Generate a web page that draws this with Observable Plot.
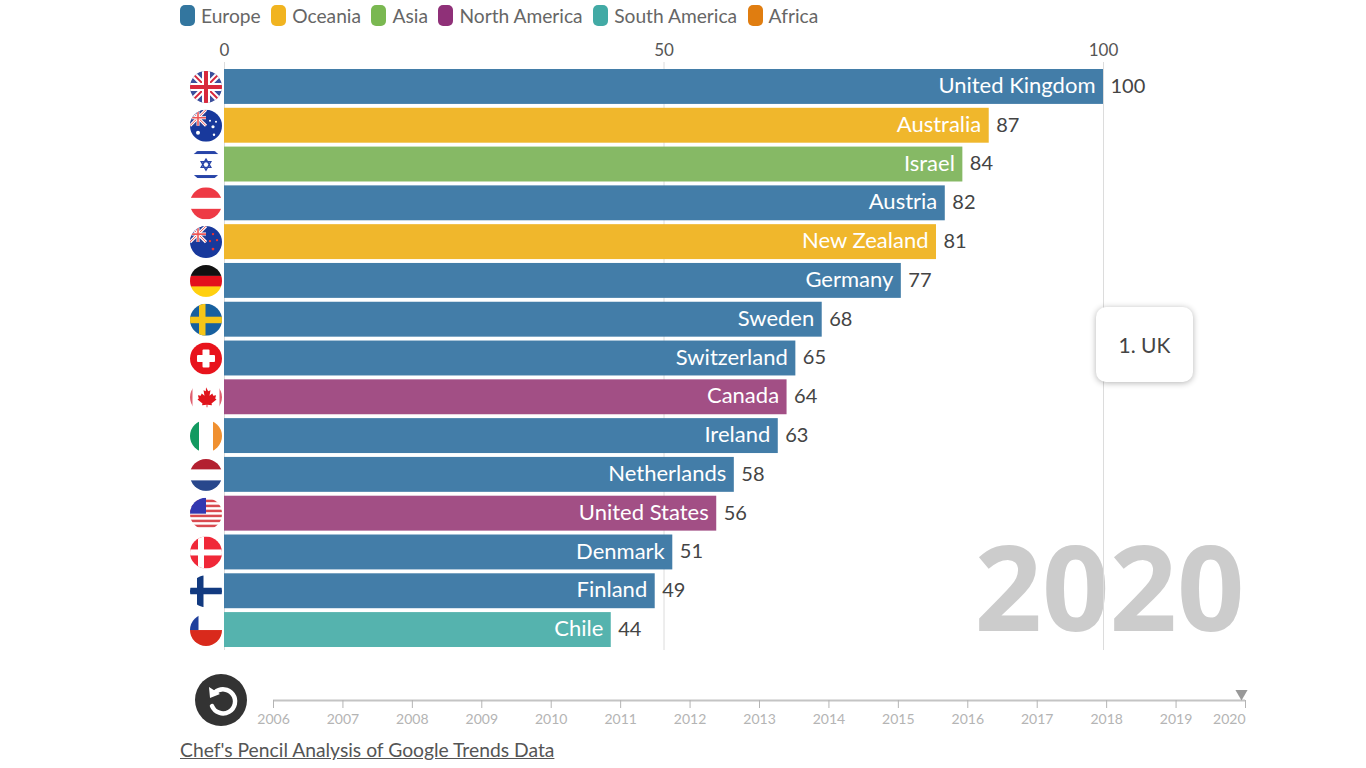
<!DOCTYPE html>
<html><head><meta charset="utf-8">
<script src="https://cdn.jsdelivr.net/npm/d3@7"></script>
<script src="https://cdn.jsdelivr.net/npm/@observablehq/plot@0.6"></script>
<style>
html,body{margin:0;padding:0;background:#fff;width:1366px;height:768px;overflow:hidden;font-family:Lato,sans-serif}
#root{position:relative;width:1366px;height:768px}
#legend{position:absolute;left:180px;top:5px;height:21px;display:flex;align-items:center;font-size:19.2px;color:#666;white-space:nowrap}
#legend .sw{display:inline-block;width:15px;height:21px;border-radius:5px;margin-right:6px}
#legend .it{display:flex;align-items:center;margin-right:10.5px}
#chart{position:absolute;left:0;top:32px}
#timeline{position:absolute;left:0;top:660px}
#note{position:absolute;left:1096px;top:307px;width:97px;height:75px;background:#fff;border-radius:10px;box-shadow:0 1px 6px rgba(0,0,0,.3);display:flex;align-items:center;justify-content:center;font-size:21px;color:#444}
#replay{position:absolute;left:195px;top:674px}
#source{position:absolute;left:180px;top:738px;font-size:19.3px;color:#555;text-decoration:underline;white-space:nowrap}
</style></head>
<body><div id="root">
<div id="legend"></div>
<div id="chart"></div>
<div id="timeline"></div>
<div id="note">1. UK</div>
<svg id="replay" width="52" height="52" viewBox="0 0 52 52"><circle cx="26" cy="26" r="26" fill="#333"/><path d="M19 17.5 A12 12 0 1 1 16 31" transform="translate(1 1)" fill="none" stroke="#fff" stroke-width="4.5" stroke-linecap="round"/><path d="M14 13 L15 24 L25 20 Z" fill="#fff"/></svg>
<div id="source">Chef's Pencil Analysis of Google Trends Data</div>
</div>
<script>
const continents = ["Europe","Oceania","Asia","North America","South America","Africa"];
const continentColors = ["#437da8","#f0b72c","#86b965","#a24f85","#55b3ae","#e08214"];
const legendColors = ["#33769f","#f1b420","#7ab851","#8f3078","#42aaa5","#e07d10"];
const countries = ["United Kingdom","Australia","Israel","Austria","New Zealand","Germany","Sweden","Switzerland","Canada","Ireland","Netherlands","United States","Denmark","Finland","Chile"];
const values = [100,87,84,82,81,77,68,65,64,63,58,56,51,49,44];
const regions = ["Europe","Oceania","Asia","Europe","Oceania","Europe","Europe","Europe","North America","Europe","Europe","North America","Europe","Europe","South America"];
const years = [2006,2007,2008,2009,2010,2011,2012,2013,2014,2015,2016,2017,2018,2019,2020];
const axisTicks = [0,50,100];
const currentYear = ["2020"];

const union = `<rect width="16" height="16" fill="#2a3f94"/><path d="M0 0L16 16M16 0L0 16" stroke="#fff" stroke-width="3"/><path d="M0 0L16 16M16 0L0 16" stroke="#e55" stroke-width="1"/><path d="M8 0V16M0 8H16" stroke="#fff" stroke-width="3"/><path d="M8 0V16M0 8H16" stroke="#e55" stroke-width="1.6"/>`;
const flagArt = {
 "United Kingdom":`<rect width="32" height="32" fill="#3c4f9c"/><path d="M0 0L32 32M32 0L0 32" stroke="#fff" stroke-width="6"/><path d="M0 0L32 32M32 0L0 32" stroke="#d8283c" stroke-width="2"/><path d="M16 0V32M0 16H32" stroke="#fff" stroke-width="8"/><path d="M16 0V32M0 16H32" stroke="#d8283c" stroke-width="4"/>`,
 "Australia":`<rect width="32" height="32" fill="#18399c"/>${union}<g fill="#fff"><circle cx="8" cy="23" r="2"/><circle cx="23" cy="17" r="1.6"/><circle cx="26" cy="12" r="1"/><circle cx="20" cy="11" r="1"/><circle cx="24" cy="25" r="1.2"/></g>`,
 "Israel":`<rect width="32" height="32" fill="#fff"/><rect y="2.5" width="32" height="3" fill="#2744a8"/><rect y="26.5" width="32" height="3" fill="#2744a8"/><path d="M16 10.5L20.8 18.8H11.2ZM16 21.5L11.2 13.2H20.8Z" fill="none" stroke="#2744a8" stroke-width="1.4"/>`,
 "Austria":`<rect width="32" height="32" fill="#fff"/><rect width="32" height="10.5" fill="#ee3a45"/><rect y="21.5" width="32" height="10.5" fill="#ee3a45"/>`,
 "New Zealand":`<rect width="32" height="32" fill="#18399c"/>${union}<g fill="#e33"><circle cx="23" cy="8" r="1.2"/><circle cx="27" cy="14" r="1.2"/><circle cx="20" cy="15" r="1.2"/><circle cx="23" cy="23" r="1.4"/></g>`,
 "Germany":`<rect width="32" height="11" fill="#111"/><rect y="11" width="32" height="11" fill="#e3101c"/><rect y="21.5" width="32" height="10.5" fill="#ffd00f"/>`,
 "Sweden":`<rect width="32" height="32" fill="#17609f"/><rect x="9" width="6.5" height="32" fill="#f5c518"/><rect y="13" width="32" height="6.5" fill="#f5c518"/>`,
 "Switzerland":`<rect width="32" height="32" fill="#e8131c"/><rect x="12.5" y="7" width="7" height="18" rx="1" fill="#fff"/><rect x="7" y="12.5" width="18" height="7" rx="1" fill="#fff"/>`,
 "Canada":`<rect width="32" height="32" fill="#fff"/><rect width="2.5" height="32" fill="#e06070"/><rect x="29.5" width="2.5" height="32" fill="#e06070"/><path d="M16 6l2.2 4 2.3-1-1 5.5 2.8-2.3 1 2.3 2.8-.5-.9 3.2 1.3 1-5 4 .5 1.8-4.6-.6V26h-.8v-2.6l-4.6.6.5-1.8-5-4 1.3-1-.9-3.2 2.8.5 1-2.3 2.8 2.3-1-5.5 2.3 1z" fill="#e0141c"/>`,
 "Ireland":`<rect width="9" height="32" fill="#129a60"/><rect x="9" width="14" height="32" fill="#fff"/><rect x="23" width="9" height="32" fill="#f09030"/>`,
 "Netherlands":`<rect width="32" height="32" fill="#fff"/><rect width="32" height="10.5" fill="#b32030"/><rect y="21.5" width="32" height="10.5" fill="#28478c"/>`,
 "United States":`<rect width="32" height="32" fill="#fff"/><g fill="#d94a50"><rect y="2" width="32" height="2.5"/><rect y="7" width="32" height="2.5"/><rect y="12" width="32" height="2.5"/><rect y="17" width="32" height="2.5"/><rect y="22" width="32" height="2.5"/><rect y="27" width="32" height="2.5"/></g><rect width="16" height="16" fill="#3338b0"/>`,
 "Denmark":`<rect width="32" height="32" fill="#f02838"/><rect x="8" width="6" height="32" fill="#fff"/><rect y="13" width="32" height="6" fill="#fff"/>`,
 "Finland":`<rect width="32" height="32" fill="#fff"/><rect x="7" width="6.5" height="32" fill="#123a80"/><rect y="12.5" width="32" height="6.5" fill="#123a80"/>`,
 "Chile":`<rect width="32" height="16" fill="#fff"/><rect y="16" width="32" height="16" fill="#d92a1c"/><rect width="8.5" height="16" fill="#1f3f9c"/>`
};
const flagSrc = name => "data:image/svg+xml," + encodeURIComponent(`<svg xmlns="http://www.w3.org/2000/svg" width="32" height="32" viewBox="0 0 32 32"><defs><clipPath id="c"><circle cx="16" cy="16" r="16"/></clipPath></defs><g clip-path="url(#c)">${flagArt[name]}</g></svg>`);

const rows = countries.map((c,i)=>({country:c,value:values[i],region:regions[i]}));

document.getElementById("legend").innerHTML = continents.map((c,i)=>`<span class="it"><span class="sw" style="background:${legendColors[i]}"></span>${c}</span>`).join("");

const chart = Plot.plot({
  width:1366,height:628,marginTop:30,marginBottom:10,marginLeft:0,marginRight:0,
  style:{background:"transparent",fontFamily:"Lato,sans-serif"},
  x:{domain:[0,100],range:[224,1103],label:null},
  y:{type:"band",domain:countries,range:[37,615],paddingInner:0.1,paddingOuter:0,align:0,round:false,axis:null,label:null},
  color:{domain:continents,range:continentColors},
  marks:[
    Plot.text(currentYear,{text:d=>d,frameAnchor:"bottom-right",dx:-122,dy:-20,lineAnchor:"bottom",fontSize:118,fontWeight:700,fontFamily:"Open Sans",fill:"#ccc"}),
    Plot.ruleX(axisTicks,{stroke:"#dcdcdc",strokeWidth:1}),
    Plot.axisX({anchor:"top",ticks:axisTicks,tickSize:0,tickPadding:7,fontSize:17,label:null,color:"#555",tickFormat:d=>String(d)}),
    Plot.barX(rows,{x:"value",y:"country",fill:"region"}),
    Plot.image(rows,{x:()=>0,y:"country",dx:-18.5,src:d=>flagSrc(d.country),width:32,height:32}),
    Plot.text(rows,{x:"value",y:"country",text:"country",textAnchor:"end",dx:-8,dy:-1,fill:"#fff",fontSize:22}),
    Plot.text(rows,{x:"value",y:"country",text:d=>String(d.value),textAnchor:"start",dx:7,dy:-0.5,fill:"#444",fontSize:20})
  ]
});
document.getElementById("chart").appendChild(chart);

const timeline = Plot.plot({
  width:1366,height:75,marginTop:0,marginBottom:35,marginLeft:0,marginRight:0,
  style:{background:"transparent",fontFamily:"Lato,sans-serif"},
  x:{domain:[2006,2020],range:[273,1245],label:null},
  y:{domain:[0,1],axis:null},
  marks:[
    Plot.ruleY([0],{x1:2006,x2:2020,stroke:"#c4c4c4",strokeWidth:2}),
    Plot.axisX({anchor:"bottom",ticks:years,tickSize:8,tickPadding:6,fontSize:14,label:null,color:"#b4b4b4",stroke:"#b4b4b4",tickFormat:d=>d===2020?"":String(d)}),
    Plot.text([2020],{x:d=>d,y:()=>0,text:d=>String(d),textAnchor:"end",dy:19,fontSize:14,fill:"#b4b4b4"}),
    Plot.dot([2020],{x:d=>d,y:()=>0,dx:-4,dy:-7,symbol:"triangle",rotate:180,r:4.5,fill:"#999"})
  ]
});
document.getElementById("timeline").appendChild(timeline);
</script></body></html>
